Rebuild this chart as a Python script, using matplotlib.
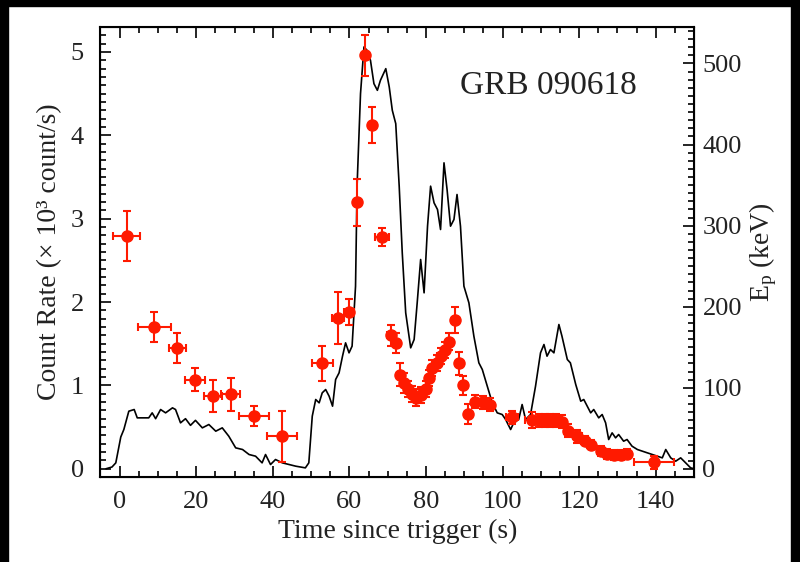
import matplotlib.pyplot as plt
from matplotlib.patches import Rectangle
from matplotlib.ticker import MultipleLocator

plt.rcParams["font.family"] = ["Liberation Serif", "DejaVu Serif"]
plt.rcParams["mathtext.fontset"] = "custom"
plt.rcParams["mathtext.rm"] = "Liberation Serif"
plt.rcParams["mathtext.it"] = "Liberation Serif:italic"

# light curve (count rate, 10^3 count/s)
t_lc = [-3.5, -2.0, -1.0, 0.3, 1.1, 2.4, 3.8, 4.6, 7.6, 8.5, 9.4, 10.7, 12.0, 13.8, 14.6,
        15.9, 17.2, 18.5, 19.8, 21.6, 23.3, 25.1, 26.8, 28.5, 30.3, 32.1, 33.8, 35.5,
        37.2, 38.1, 39.4, 40.7, 42.5, 44.2, 46.0, 48.5, 49.4, 50.3, 51.2, 52.1, 52.9,
        53.8, 54.7, 55.6, 56.4, 57.3, 58.2, 59.0, 59.9, 60.7, 61.6, 62.0, 62.9, 63.8,
        64.6, 65.5, 66.4, 67.3, 68.1, 69.5, 70.4, 71.2, 72.1, 73.0, 73.8, 74.7, 76.0,
        76.9, 77.7, 78.6, 79.5, 80.4, 81.2, 82.1, 83.0, 83.8, 84.7, 85.5, 86.4, 87.3,
        88.1, 89.0, 89.9, 91.2, 92.5, 93.8, 94.7, 96.0, 97.3, 98.6, 99.9, 100.8, 102.1,
        102.9, 104.2, 105.1, 106.0, 107.3, 108.6, 109.9, 110.8, 111.6, 112.5, 113.4,
        114.7, 115.5, 116.9, 117.7, 119.1, 120.4, 121.2, 122.1, 123.0, 123.8, 125.1,
        126.0, 126.9, 127.7, 128.6, 129.5, 130.3, 131.6, 132.5, 133.8, 135.2, 136.5,
        137.8, 139.1, 140.4, 141.7, 142.6, 143.9, 145.2, 146.5, 147.8, 149.1, 150.0]
rate = [0.0, 0.02, 0.07, 0.38, 0.47, 0.69, 0.71, 0.61, 0.61, 0.67, 0.60, 0.71, 0.67, 0.73, 0.71,
        0.55, 0.60, 0.52, 0.58, 0.49, 0.53, 0.45, 0.49, 0.39, 0.25, 0.23, 0.17, 0.15,
        0.07, 0.17, 0.05, 0.11, 0.07, 0.05, 0.03, 0.01, 0.07, 0.63, 0.83, 0.79, 0.91,
        0.95, 0.87, 0.75, 1.07, 1.15, 1.35, 1.51, 1.39, 1.47, 2.19, 3.39, 4.50, 5.06,
        5.02, 4.90, 4.62, 4.54, 4.66, 4.80, 4.58, 4.30, 4.14, 3.39, 2.59, 1.87, 1.45,
        1.55, 1.99, 2.51, 2.11, 2.91, 3.39, 3.19, 3.11, 2.87, 3.67, 3.35, 2.91, 2.99,
        3.29, 2.91, 2.19, 1.99, 1.59, 1.27, 1.19, 0.99, 0.79, 0.67, 0.65, 0.59, 0.47,
        0.55, 0.59, 0.77, 0.59, 0.65, 0.99, 1.39, 1.49, 1.35, 1.43, 1.39,
        1.73, 1.59, 1.31, 1.27, 1.01, 0.81, 0.83, 0.75, 0.67, 0.71, 0.61,
        0.65, 0.55, 0.35, 0.43, 0.37, 0.41, 0.33, 0.35, 0.27, 0.23, 0.21,
        0.19, 0.17, 0.15, 0.13, 0.23, 0.13, 0.09, 0.13, 0.07, 0.01, 0.0]

# peak energy (keV)
t_ep = [1.8, 9.0, 15.1, 19.8, 24.4, 29.0, 35.1, 42.5, 52.9, 57.0, 59.9, 62.1, 64.2, 66.0,
        68.6, 70.9, 72.1, 73.1, 74.2, 75.3, 76.4, 77.5, 78.6, 79.9, 80.8, 81.6, 82.8,
        83.8, 84.9, 86.0, 87.7, 88.6, 89.7, 91.0, 92.9, 95.0, 96.8, 102.5, 107.8, 109.5,
        111.0, 112.5, 114.0, 115.5, 117.0, 119.5, 121.5, 123.0, 125.6, 127.3, 129.0,
        130.8, 132.5, 139.5]
ep = [287, 175, 149, 110, 90, 92, 65, 40, 130, 186, 194, 329, 510, 424,
      286, 165, 155, 116, 106, 99, 92, 88, 91, 99, 112, 124, 131,
      139, 147, 157, 184, 130, 103, 68, 83, 82, 79, 64, 60, 60,
      60, 60, 60, 58, 47, 40, 35, 30, 22, 18, 17,
      17, 19, 8]
t_err = [3.5, 4.3, 2.3, 2.6, 2.4, 2.4, 3.9, 3.9, 2.7, 1.5, 1.3, 0.7, 0.7, 0.7,
         1.8, 1.0, 0.8, 0.8, 0.8, 0.8, 0.8, 0.8, 0.8, 0.8, 0.8, 0.8, 0.8,
         0.8, 0.8, 0.8, 0.8, 0.8, 0.8, 0.8, 1.0, 1.0, 1.0, 1.5, 2.0, 1.0,
         1.0, 1.0, 1.0, 1.0, 1.0, 1.2, 1.0, 1.0, 1.0, 1.0, 1.0,
         1.0, 1.0, 5.2]
ep_err = [31, 18, 18, 14, 20, 20, 12, 31, 22, 32, 16, 29, 25, 22,
          11, 13, 12, 14, 12, 10, 10, 10, 10, 10, 10, 10, 10,
          10, 10, 10, 16, 14, 12, 12, 8, 8, 8, 8, 10, 8,
          8, 8, 8, 8, 8, 8, 6, 6, 6, 6, 6,
          6, 6, 8]

fig = plt.figure(figsize=(8, 5.62), dpi=100)
ax = fig.add_axes([0.1256, 0.1512, 0.742, 0.8008])

ax.plot(t_lc, rate, color="black", lw=1.2)
ax.set_xlim(-5, 150)
ax.set_ylim(-0.1, 5.3)
ax.xaxis.set_major_locator(MultipleLocator(20))
ax.xaxis.set_minor_locator(MultipleLocator(5))
ax.yaxis.set_major_locator(MultipleLocator(1))
ax.yaxis.set_minor_locator(MultipleLocator(0.1))
ax.tick_params(which="both", direction="in", top=True, right=False, labelsize=19,
               labelcolor="#222222", width=1.2)
ax.tick_params(which="major", length=8)
ax.tick_params(which="minor", length=4)
ax.tick_params(axis="y", pad=12)
ax.tick_params(axis="x", pad=10)
ax.set_xlabel("Time since trigger (s)", fontsize=20, color="#222222", labelpad=4)
ax.set_ylabel("Count Rate (× 10³ count/s)", fontsize=20, color="#222222", labelpad=6)
for s in ax.spines.values():
    s.set_linewidth(1.5)

ax2 = ax.twinx()
ax2.errorbar(t_ep, ep, xerr=t_err, yerr=ep_err, fmt="o", color="#ff1a00", ms=8,
             elinewidth=1.5, capsize=3, capthick=1.5)
ax2.set_ylim(-10, 545)
ax2.yaxis.set_major_locator(MultipleLocator(100))
ax2.yaxis.set_minor_locator(MultipleLocator(10))
ax2.tick_params(which="both", direction="in", labelsize=19, labelcolor="#222222",
                width=1.2, pad=6)
ax2.tick_params(which="major", length=8)
ax2.tick_params(which="minor", length=4)
ax2.set_ylabel("E$_{\\mathrm{p}}$ (keV)", fontsize=20, color="#222222", labelpad=4)

ax.text(111.9, 4.6, "GRB 090618", fontsize=24, color="#222222", ha="center", va="center")

# black frame edges of the scanned picture
for r in [(0, 0.989, 1, 0.011), (0, 0, 0.01, 1), (0.989, 0, 0.011, 1)]:
    fig.add_artist(Rectangle(r[:2], r[2], r[3], transform=fig.transFigure,
                             color="black", zorder=10))

plt.savefig("out.png", dpi=100)
